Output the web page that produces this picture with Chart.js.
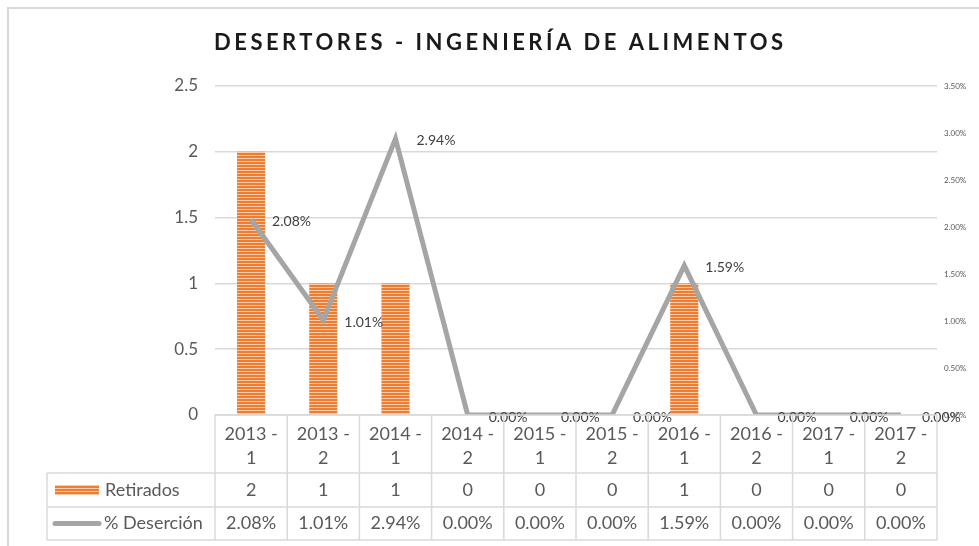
<!DOCTYPE html>
<html>
<head>
<meta charset="utf-8">
<title>Desertores - Ingeniería de Alimentos</title>
<script src="https://cdn.jsdelivr.net/npm/chart.js@4.4.1/dist/chart.umd.min.js"></script>
<style>
    html, body { margin: 0; padding: 0; background: #ffffff; }
    canvas { display: block; }
</style>
</head>
<body>
<canvas id="chart-desertores" width="979" height="546"></canvas>
<script>
"use strict";

// Data
let chartTitle = "DESERTORES - INGENIERÍA DE ALIMENTOS";
let periods = ["2013 - 1", "2013 - 2", "2014 - 1", "2014 - 2", "2015 - 1",
               "2015 - 2", "2016 - 1", "2016 - 2", "2017 - 1", "2017 - 2"];
let retirados = [2, 1, 1, 0, 0, 0, 1, 0, 0, 0];
let desercion = [2.08, 1.01, 2.94, 0.00, 0.00, 0.00, 1.59, 0.00, 0.00, 0.00];
let seriesNames = ["Retirados", "% Deserción"];

let textColor = "#595959";
let gridColor = "#D9D9D9";
let fontName = "Lato, 'Open Sans', sans-serif";

// Striped orange fill for the bars
function makeStripes() {
    let c = document.createElement("canvas");
    c.width = 4;
    c.height = 3;
    let g = c.getContext("2d");
    g.fillStyle = "#F8CBAD";
    g.fillRect(0, 0, 4, 3);
    g.fillStyle = "#ED7D31";
    g.fillRect(0, 0, 4, 2);
    return g.createPattern(c, "repeat");
}
let stripes = makeStripes();

// Frame and title
let framePlugin = {
    id: "frame",
    beforeDraw(chart) {
        let ctx = chart.ctx;
        ctx.save();
        ctx.fillStyle = "#ffffff";
        ctx.fillRect(0, 0, chart.width, chart.height);
        ctx.strokeStyle = gridColor;
        ctx.lineWidth = 2;
        ctx.beginPath();
        ctx.moveTo(8, chart.height);
        ctx.lineTo(8, 8);
        ctx.lineTo(chart.width, 8);
        ctx.stroke();

        ctx.font = "bold 22px " + fontName;
        ctx.fillStyle = "#1a1a1a";
        ctx.textBaseline = "middle";
        ctx.textAlign = "left";
        let plain = ctx.measureText(chartTitle).width;
        let targetW = 569;
        let spacing = (targetW - plain) / (chartTitle.length - 1);
        ctx.letterSpacing = spacing + "px";
        ctx.fillText(chartTitle, 214, 43);
        ctx.restore();
    }
};

// Percent labels next to the line points
let labelPlugin = {
    id: "lineLabels",
    afterDatasetsDraw(chart) {
        let ctx = chart.ctx;
        let meta = chart.getDatasetMeta(0);
        ctx.save();
        ctx.font = "14px " + fontName;
        ctx.fillStyle = "#404040";
        ctx.textAlign = "left";
        ctx.textBaseline = "middle";
        meta.data.forEach(function (pt, i) {
            ctx.fillText(desercion[i].toFixed(2) + "%", pt.x + 21, pt.y + 2);
        });
        ctx.restore();
    }
};

// Data table under the plot
let tablePlugin = {
    id: "dataTable",
    afterDraw(chart) {
        let ctx = chart.ctx;
        let xs = chart.scales.x;
        let n = periods.length;
        let colW = xs.getPixelForValue(1) - xs.getPixelForValue(0);
        let left = xs.getPixelForValue(0) - colW / 2;
        let right = left + colW * n;
        let top = chart.chartArea.bottom;
        let r1 = top + 58;
        let r2 = r1 + 34;
        let r3 = r2 + 33;
        let tableLeft = 47;

        ctx.save();
        ctx.strokeStyle = gridColor;
        ctx.lineWidth = 1.5;
        ctx.beginPath();
        ctx.moveTo(left, top);
        ctx.lineTo(right, top);
        [r1, r2, r3].forEach(function (y) {
            ctx.moveTo(tableLeft, y);
            ctx.lineTo(right, y);
        });
        for (let i = 0; i <= n; i++) {
            let x = left + i * colW;
            ctx.moveTo(x, top);
            ctx.lineTo(x, r3);
        }
        ctx.moveTo(tableLeft, r1);
        ctx.lineTo(tableLeft, r3);
        ctx.stroke();

        ctx.font = "18px " + fontName;
        ctx.fillStyle = textColor;
        ctx.textAlign = "center";
        ctx.textBaseline = "middle";
        for (let i = 0; i < n; i++) {
            let cx = left + (i + 0.5) * colW;
            let parts = periods[i].split(" - ");
            ctx.fillText(parts[0] + " -", cx, top + 19);
            ctx.fillText(parts[1], cx, top + 43);
            ctx.fillText(String(retirados[i]), cx, (r1 + r2) / 2);
            ctx.fillText(desercion[i].toFixed(2) + "%", cx, (r2 + r3) / 2);
        }

        // legend keys
        ctx.fillStyle = stripes;
        ctx.fillRect(55, (r1 + r2) / 2 - 5, 44, 10);
        ctx.strokeStyle = "#A5A5A5";
        ctx.lineWidth = 5;
        ctx.lineCap = "round";
        ctx.beginPath();
        ctx.moveTo(55, (r2 + r3) / 2);
        ctx.lineTo(99, (r2 + r3) / 2);
        ctx.stroke();

        ctx.fillStyle = textColor;
        ctx.textAlign = "left";
        ctx.fillText(seriesNames[0], 105, (r1 + r2) / 2);
        ctx.fillText(seriesNames[1], 104, (r2 + r3) / 2);
        ctx.restore();
    }
};

let canvas = document.getElementById("chart-desertores");

let myChart = new Chart(canvas, {
    "type": "bar",
    "data": {
        "labels": periods,
        "datasets": [{
            "type": "line",
            "label": seriesNames[1],
            "data": desercion,
            "yAxisID": "y1",
            "borderColor": "#A5A5A5",
            "borderWidth": 5,
            "pointRadius": 0,
            "tension": 0,
            "fill": false,
            "order": 0
        }, {
            "type": "bar",
            "label": seriesNames[0],
            "data": retirados,
            "yAxisID": "y",
            "backgroundColor": stripes,
            "barPercentage": 0.39,
            "categoryPercentage": 1,
            "order": 1
        }]
    },
    "options": {
        responsive: false,
        maintainAspectRatio: false,
        animation: false,
        layout: {
            padding: { top: 86, bottom: 131, left: 0, right: 0 }
        },
        plugins: {
            legend: { display: false },
            tooltip: { enabled: false },
            title: { display: false }
        },
        scales: {
            x: {
                display: false,
                offset: true
            },
            y: {
                position: "left",
                min: 0,
                max: 2.5,
                ticks: {
                    stepSize: 0.5,
                    color: textColor,
                    font: { size: 17, family: fontName },
                    padding: 17,
                    callback: function (v) {
                        return String(v);
                    }
                },
                grid: {
                    color: gridColor,
                    lineWidth: 1.5,
                    drawTicks: false
                },
                border: { display: false },
                afterFit(scale) {
                    scale.width = 215;
                }
            },
            y1: {
                position: "right",
                min: 0,
                max: 3.5,
                ticks: {
                    stepSize: 0.5,
                    color: textColor,
                    font: { size: 8, family: fontName },
                    padding: 7,
                    callback: function (v) {
                        return v.toFixed(2) + "%";
                    }
                },
                grid: { display: false, drawTicks: false },
                border: { display: false },
                afterFit(scale) {
                    scale.width = 42;
                }
            }
        }
    },
    plugins: [framePlugin, labelPlugin, tablePlugin]
});
</script>
</body>
</html>
